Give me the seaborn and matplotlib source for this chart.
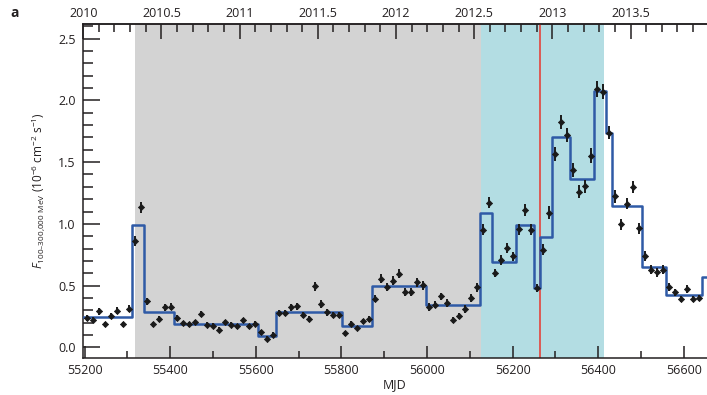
import numpy as np
import pandas as pd
import matplotlib
matplotlib.use("Agg")
import matplotlib.pyplot as plt
from matplotlib.ticker import MultipleLocator, FixedLocator, FuncFormatter
import seaborn as sns

# ---------------- data ----------------
mjd = [55207, 55221, 55235, 55249, 55263, 55277, 55291, 55305, 55319, 55333,
       55347, 55361, 55375, 55389, 55403, 55417, 55431, 55445, 55459, 55473,
       55487, 55501, 55515, 55529, 55543, 55557, 55571, 55585, 55599, 55613,
       55627, 55641, 55655, 55669, 55683, 55697, 55711, 55725, 55739, 55753,
       55767, 55781, 55795, 55809, 55823, 55837, 55851, 55865, 55879, 55893,
       55907, 55921, 55935, 55949, 55963, 55977, 55991, 56005, 56019, 56033,
       56047, 56061, 56075, 56089, 56103, 56117, 56131, 56145, 56159, 56173,
       56187, 56201, 56215, 56229, 56243, 56257, 56271, 56285, 56299, 56313,
       56327, 56341, 56355, 56369, 56383, 56397, 56411, 56425, 56439, 56453,
       56467, 56481, 56495, 56509, 56523, 56537, 56551, 56565, 56579, 56593,
       56607, 56621, 56635]

flux = [0.238, 0.224, 0.291, 0.189, 0.256, 0.297, 0.186, 0.313, 0.858, 1.133,
        0.372, 0.189, 0.230, 0.324, 0.329, 0.235, 0.197, 0.186, 0.205, 0.273,
        0.184, 0.176, 0.144, 0.202, 0.184, 0.170, 0.219, 0.170, 0.192, 0.122,
        0.070, 0.103, 0.278, 0.278, 0.324, 0.332, 0.265, 0.230, 0.494, 0.351,
        0.283, 0.265, 0.265, 0.116, 0.192, 0.157, 0.210, 0.230, 0.394, 0.556,
        0.489, 0.540, 0.596, 0.448, 0.448, 0.526, 0.502, 0.327, 0.345, 0.413,
        0.359, 0.219, 0.251, 0.311, 0.400, 0.485, 0.952, 1.173, 0.602, 0.710,
        0.804, 0.736, 0.958, 1.114, 0.952, 0.480, 0.790, 1.092, 1.567, 1.824,
        1.721, 1.438, 1.262, 1.303, 1.551, 2.093, 2.071, 1.740, 1.222, 0.998,
        1.163, 1.298, 0.966, 0.742, 0.629, 0.607, 0.629, 0.489, 0.445, 0.392,
        0.472, 0.392, 0.400]

flux_err = [0.025, 0.025, 0.025, 0.020, 0.025, 0.030, 0.020, 0.030, 0.040, 0.045,
            0.030, 0.020, 0.025, 0.030, 0.030, 0.025, 0.020, 0.020, 0.020, 0.025,
            0.020, 0.020, 0.020, 0.020, 0.020, 0.020, 0.020, 0.020, 0.020, 0.020,
            0.020, 0.020, 0.025, 0.025, 0.030, 0.030, 0.025, 0.025, 0.035, 0.030,
            0.025, 0.025, 0.025, 0.020, 0.020, 0.020, 0.020, 0.025, 0.030, 0.035,
            0.035, 0.035, 0.035, 0.030, 0.030, 0.035, 0.035, 0.030, 0.030, 0.030,
            0.030, 0.025, 0.025, 0.030, 0.030, 0.035, 0.045, 0.045, 0.035, 0.040,
            0.040, 0.040, 0.045, 0.050, 0.045, 0.030, 0.045, 0.050, 0.055, 0.055,
            0.055, 0.055, 0.055, 0.050, 0.060, 0.065, 0.060, 0.055, 0.050, 0.045,
            0.045, 0.050, 0.045, 0.040, 0.035, 0.035, 0.035, 0.030, 0.030, 0.025,
            0.030, 0.025, 0.025]

block_edges = [55196, 55312, 55340, 55410, 55606, 55648, 55802, 55872, 55998,
               56124, 56152, 56208, 56250, 56264, 56292, 56334, 56390, 56418,
               56432, 56502, 56558, 56642, 56670]
block_levels = [0.248, 0.995, 0.286, 0.189, 0.095, 0.289, 0.176, 0.494, 0.340,
                1.092, 0.688, 0.990, 0.480, 0.893, 1.707, 1.365, 2.077, 1.740,
                1.146, 0.650, 0.421, 0.566]

grey_span = [55318, 56125]
blue_span = [56125, 56413]
red_line_mjd = 56264

x_major = [55200, 55400, 55600, 55800, 56000, 56200, 56400, 56600]
y_major = [0.0, 0.5, 1.0, 1.5, 2.0, 2.5]
year_ticks = [2010, 2010.5, 2011, 2011.5, 2012, 2012.5, 2013, 2013.5]

# ---------------- style ----------------
sns.set_style("ticks")
plt.rcParams["font.family"] = ["Open Sans", "DejaVu Sans"]
plt.rcParams["mathtext.fontset"] = "custom"
plt.rcParams["mathtext.rm"] = "Open Sans"
plt.rcParams["mathtext.it"] = "Open Sans:italic"
plt.rcParams["mathtext.bf"] = "Open Sans:bold"

txt_color = "#231f20"
fig = plt.figure(figsize=(7.07, 3.95), dpi=100)
ax = fig.add_axes([0.1171, 0.0937, 0.8829, 0.8456])

ax.axvspan(*grey_span, color="#d3d3d3", lw=0, zorder=0)
ax.axvspan(*blue_span, color="#b3dde3", lw=0, zorder=0)
ax.axvline(red_line_mjd, color="#e0504a", lw=1.3, zorder=1)

# block step function
step_df = pd.DataFrame({"mjd": block_edges,
                        "level": block_levels + [block_levels[-1]]})
sns.lineplot(data=step_df, x="mjd", y="level", drawstyle="steps-post",
             estimator=None, sort=False, color="#2f5aa6", lw=1.8, ax=ax,
             zorder=3)

# data points with error bars
df = pd.DataFrame({"mjd": mjd, "flux": flux, "err": flux_err})
ax.errorbar(df["mjd"], df["flux"], yerr=df["err"], fmt="none",
            ecolor="#1a1a1a", elinewidth=1.4, capsize=0, zorder=4)
sns.scatterplot(data=df, x="mjd", y="flux", marker="D", s=10,
                color="#1a1a1a", edgecolor="#1a1a1a", linewidth=0.5,
                ax=ax, zorder=5)

ax.set_xlim(55196, 56654)
ax.set_ylim(-0.086, 2.619)

for s in ["left", "bottom", "top"]:
    ax.spines[s].set_color("#231f20")
    ax.spines[s].set_linewidth(1.1)
ax.spines["right"].set_visible(False)

ax.xaxis.set_major_locator(FixedLocator(x_major))
ax.xaxis.set_minor_locator(MultipleLocator(100))
ax.yaxis.set_major_locator(FixedLocator(y_major))
ax.yaxis.set_minor_locator(MultipleLocator(0.1))
ax.yaxis.set_major_formatter(FuncFormatter(lambda v, p: f"{v:.1f}"))
ax.xaxis.set_major_formatter(FuncFormatter(lambda v, p: f"{int(v)}"))
ax.tick_params(axis="both", which="major", direction="in", length=9,
               width=1.1, color="#231f20", labelsize=9, labelcolor=txt_color,
               top=False, right=False, pad=4)
ax.tick_params(axis="both", which="minor", direction="in", length=5,
               width=1.1, color="#231f20", top=False, right=False)
ax.tick_params(axis="y", which="major", length=12, pad=5)
ax.tick_params(axis="y", which="minor", length=7)

# top axis in years
def mjd2yr(m):
    return 2010.0 + (np.asarray(m) - 55197.0) / 365.25

def yr2mjd(y):
    return 55197.0 + (np.asarray(y) - 2010.0) * 365.25

sec = ax.secondary_xaxis("top", functions=(mjd2yr, yr2mjd))
sec.xaxis.set_major_locator(FixedLocator(year_ticks))
sec.xaxis.set_minor_locator(MultipleLocator(0.1))
sec.xaxis.set_major_formatter(FuncFormatter(lambda v, p: f"{v:g}"))
sec.tick_params(axis="x", which="major", direction="in", length=11, width=1.1,
                color="#231f20", labelsize=9, labelcolor=txt_color, pad=3)
sec.tick_params(axis="x", which="minor", direction="in", length=6, width=1.1,
                color="#231f20")
sec.spines["top"].set_linewidth(1.1)

ax.set_xlabel("MJD", fontsize=9, color=txt_color, labelpad=1)
ax.set_ylabel(r"$\it{F}$$_{\rm 100\text{–}300{,}000\ MeV}$ (10$^{-6}$ cm$^{-2}$ s$^{-1}$)",
              fontsize=8.5, color=txt_color, labelpad=8)

fig.text(0.014, 0.985, "a", fontsize=10, fontweight="bold", color=txt_color,
         va="top", ha="left")

fig.savefig("out.png", dpi=100)
